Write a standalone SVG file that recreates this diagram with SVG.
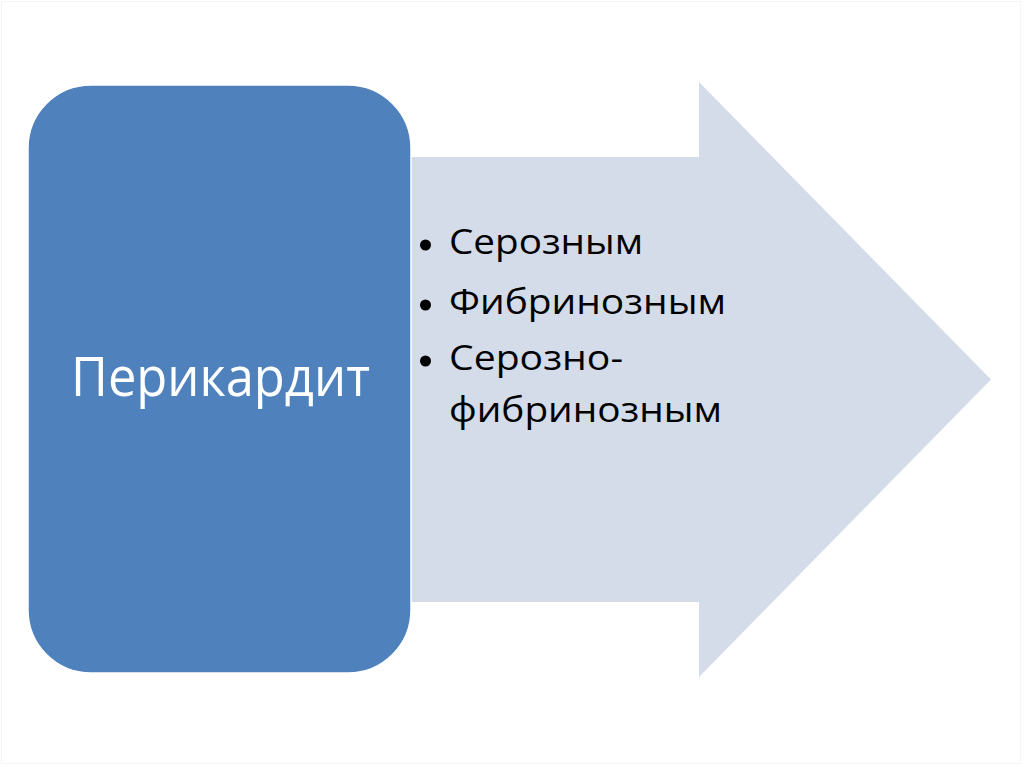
<svg xmlns="http://www.w3.org/2000/svg" width="1024" height="767" viewBox="0 0 1024 767">
<style>
.bul{font-family:"Open Sans","Liberation Sans",sans-serif;font-size:35px;fill:#000}
.dot{fill:#000}
.title{font-family:"Open Sans","Liberation Sans",sans-serif;font-size:54px;fill:#fff}
</style>
<rect x="0" y="0" width="1024" height="767" fill="#fff"/>
<rect x="1.5" y="1.5" width="1019" height="762" fill="none" stroke="#f5f5f5" stroke-width="1"/>
<g id="arrow">
<polygon points="411,157 699,157 699,82 991,379.5 699,677 699,602 411,602" fill="#d4dce9"/>
<g id="arrow-text">
<circle class="dot" cx="425.5" cy="245" r="5.5"/>
<text class="bul" x="449" y="254" textLength="194" lengthAdjust="spacingAndGlyphs">Серозным</text>
<circle class="dot" cx="425.5" cy="305" r="5.5"/>
<text class="bul" x="449" y="314" textLength="277" lengthAdjust="spacingAndGlyphs">Фибринозным</text>
<circle class="dot" cx="425.5" cy="361" r="5.5"/>
<text class="bul" x="449" y="370" textLength="174" lengthAdjust="spacingAndGlyphs">Серозно-</text>
<text class="bul" x="449" y="422" textLength="273" lengthAdjust="spacingAndGlyphs">фибринозным</text>
</g>
</g>
<g id="pericarditis">
<rect x="28" y="85" width="383" height="588" rx="63" ry="63" fill="#4f81bd" stroke="#fff" stroke-width="1.5"/>
<text class="title" x="71" y="396" textLength="299" lengthAdjust="spacingAndGlyphs">Перикардит</text>
</g>
</svg>
